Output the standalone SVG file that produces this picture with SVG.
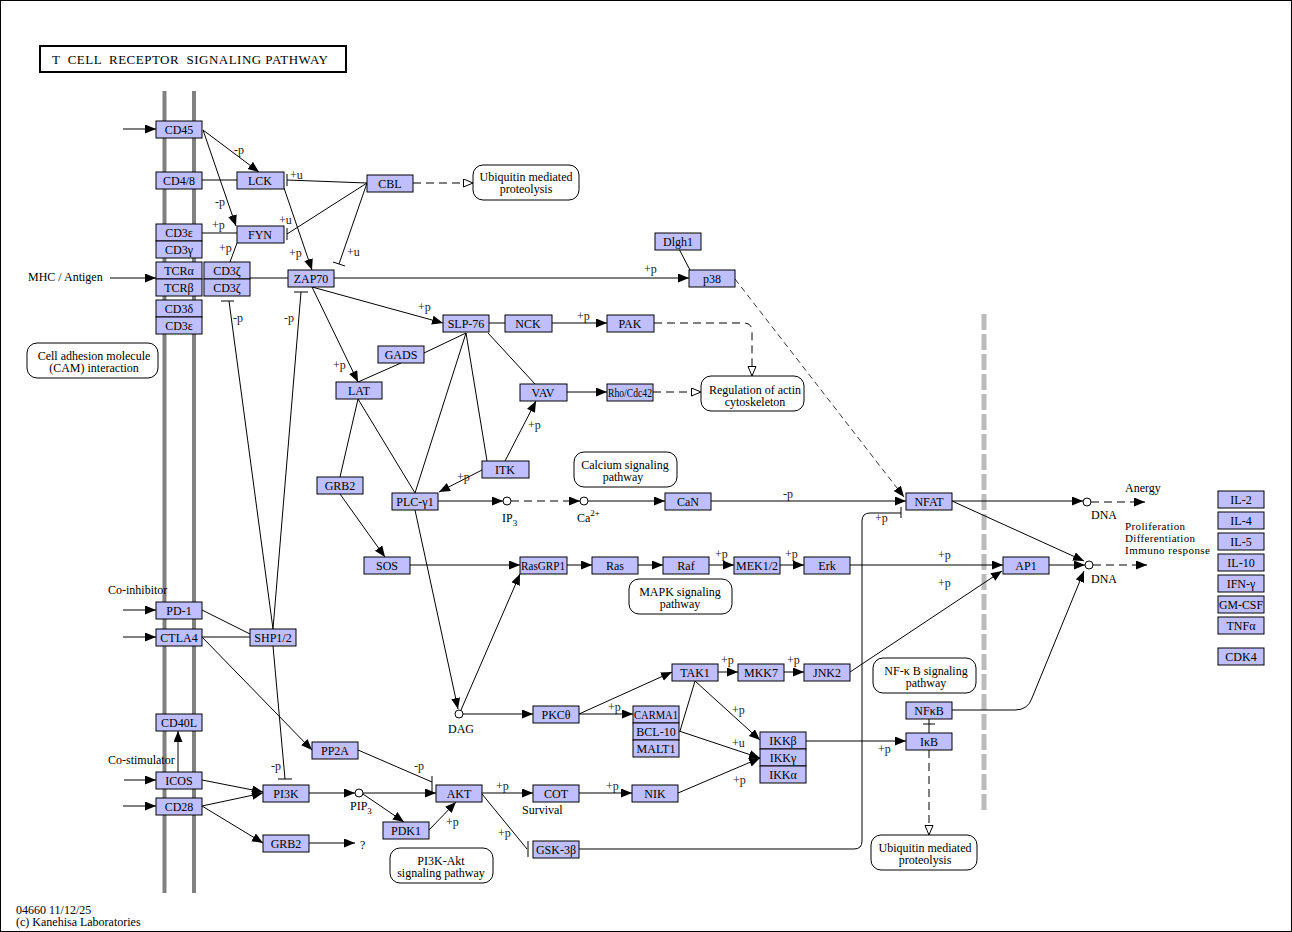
<svg xmlns="http://www.w3.org/2000/svg" width="1292" height="932" viewBox="0 0 1292 932">
<style>
.n rect{fill:#bfbfff;stroke:#000;stroke-width:1}
.n text,.t{font-family:"Liberation Serif",serif;font-size:12px;fill:#000}
.n text{text-anchor:middle}
.c{fill:#fff;stroke:#000;stroke-width:1}
.pw rect{fill:#fff;stroke:#000;stroke-width:1}
.pw text{font-family:"Liberation Serif",serif;font-size:12px;text-anchor:middle}
#edges line,#edges path,#edges polyline{stroke:#000;stroke-width:1;fill:none}
.l{font-family:"Liberation Serif",serif;font-size:12px;fill:#222}
.ar{marker-end:url(#a)}
.d{stroke-dasharray:8,5}
.dt{stroke-dasharray:6,4}
.ao{marker-end:url(#o)}
.s{font-size:11px}
</style>
<defs>
<marker id="a" markerUnits="userSpaceOnUse" markerWidth="12" markerHeight="10" refX="11" refY="4.5" orient="auto"><path d="M0,0 L11,4.5 L0,9 z" fill="#000"/></marker>
<marker id="o" markerUnits="userSpaceOnUse" markerWidth="12" markerHeight="10" refX="10" refY="4.5" orient="auto"><path d="M0.5,0.5 L10,4.5 L0.5,8.5 z" fill="#fff" stroke="#000"/></marker>
</defs>
<rect x="0.5" y="0.5" width="1291" height="931" fill="#fff" stroke="#000"/>
<g id="title"><rect x="40" y="46" width="306" height="26" fill="#fff" stroke="#000" stroke-width="2"/><text x="52" y="64" class="t" style="font-size:13px" xml:space="preserve" textLength="276" lengthAdjust="spacing">T  CELL  RECEPTOR  SIGNALING PATHWAY</text></g>
<g id="membrane"><line x1="164.5" y1="91" x2="164.5" y2="893" stroke="#808080" stroke-width="4"/><line x1="194" y1="91" x2="194" y2="893" stroke="#808080" stroke-width="4"/><line x1="984" y1="314" x2="984" y2="810" stroke="#bbb" stroke-width="5" stroke-dasharray="16,4"/></g>

<g id="edges">
<line class="ar" x1="123" y1="129" x2="156" y2="129"/>
<line class="ar" x1="110" y1="278" x2="156" y2="278"/>
<line class="ar" x1="123" y1="610" x2="156" y2="610"/>
<line class="ar" x1="123" y1="637" x2="156" y2="637"/>
<line class="ar" x1="124" y1="780" x2="156" y2="780"/>
<line class="ar" x1="123" y1="806" x2="156" y2="806"/>
<line class="ar" x1="203" y1="130" x2="259" y2="172"/>
<line class="ar" x1="203" y1="130" x2="236" y2="226"/>
<line x1="202" y1="180" x2="237" y2="180"/>
<line x1="367" y1="183" x2="287" y2="180"/><line x1="287" y1="174" x2="287" y2="186"/>
<line x1="367" y1="183" x2="287" y2="234"/><line x1="287" y1="228" x2="287" y2="240"/>
<line x1="367" y1="183" x2="339" y2="264"/><line x1="333" y1="262" x2="345" y2="266"/>
<line class="ar" x1="284" y1="188" x2="312" y2="270"/>
<line x1="202" y1="233" x2="237" y2="233"/>
<line x1="237" y1="243" x2="230" y2="262"/>
<line x1="250" y1="278" x2="288" y2="278"/>
<line class="ar" x1="334" y1="278" x2="689" y2="278"/>
<line x1="679" y1="249" x2="690" y2="270"/>
<line class="ar" x1="312" y1="287" x2="443" y2="323"/>
<line class="ar" x1="312" y1="287" x2="358" y2="382"/>
<line x1="301" y1="292" x2="273" y2="629"/><line x1="294" y1="292" x2="308" y2="292"/>
<line x1="229" y1="301" x2="273" y2="629"/><line x1="221" y1="301" x2="234" y2="301"/>
<line x1="273" y1="646" x2="285" y2="779"/><line x1="278" y1="779" x2="292" y2="779"/>
<line x1="202" y1="610" x2="250" y2="634"/>
<line x1="202" y1="637" x2="250" y2="637"/>
<line class="ar" x1="202" y1="637" x2="312" y2="750"/>
<line class="ar" x1="178" y1="772" x2="178" y2="731"/>
<line class="ar" x1="202" y1="780" x2="263" y2="792"/>
<line class="ar" x1="202" y1="806" x2="263" y2="793"/>
<line class="ar" x1="202" y1="806" x2="263" y2="843"/>
<line class="ar" x1="309" y1="843" x2="355" y2="843"/>
<line class="ar" x1="309" y1="793" x2="355" y2="793"/>
<line class="ar" x1="363" y1="793" x2="436" y2="793"/>
<line class="ar" x1="363" y1="794" x2="404" y2="822"/>
<line class="ar" x1="429" y1="830" x2="456" y2="802"/>
<line x1="358" y1="750" x2="432" y2="782"/><line x1="432" y1="776" x2="432" y2="792"/>
<line class="ar" x1="482" y1="793" x2="533" y2="793"/>
<line x1="482" y1="794" x2="527" y2="849"/><line x1="528" y1="841" x2="528" y2="857"/>
<line class="ar" x1="579" y1="793" x2="632" y2="793"/>
<line class="ar" x1="678" y1="793" x2="760" y2="758"/>
<path d="M579,849 L854,849 Q862,849 862,841 L862,521 Q862,513 870,513 L901,513"/><line x1="901" y1="507" x2="901" y2="518"/>
<line class="ar" x1="711" y1="501" x2="906" y2="501"/>
<line class="ar dt" x1="735" y1="279" x2="904" y2="497" style="stroke-width:0.8"/>
<line class="ar" x1="438" y1="501" x2="503" y2="501"/>
<line class="ar d" x1="511" y1="501" x2="580" y2="501"/>
<line class="ar" x1="588" y1="501" x2="665" y2="501"/>
<line class="ar" x1="482" y1="470" x2="439" y2="492"/>
<line class="ar" x1="505" y1="461" x2="536" y2="401"/>
<line x1="466" y1="333" x2="487" y2="461"/>
<line x1="466" y1="333" x2="415" y2="493"/>
<line x1="466" y1="333" x2="424" y2="353"/>
<line x1="488" y1="333" x2="535" y2="384"/>
<line x1="489" y1="323" x2="505" y2="323"/>
<line x1="401" y1="363" x2="358" y2="382"/>
<line x1="358" y1="399" x2="340" y2="477"/>
<line x1="358" y1="399" x2="415" y2="493"/>
<line class="ar" x1="340" y1="494" x2="385" y2="557"/>
<line class="ar" x1="410" y1="565" x2="520" y2="565"/>
<line class="ar" x1="567" y1="565" x2="592" y2="565"/>
<line class="ar" x1="638" y1="565" x2="663" y2="565"/>
<line class="ar" x1="709" y1="565" x2="734" y2="565"/>
<line class="ar" x1="780" y1="565" x2="804" y2="565"/>
<line class="ar" x1="850" y1="565" x2="1003" y2="565"/>
<line class="ar" x1="850" y1="672" x2="1002" y2="571"/>
<line class="ar" x1="552" y1="323" x2="607" y2="323"/>
<path class="ao d" d="M654,323 L744,323 Q752,323 752,331 L752,376"/>
<line class="ar" x1="567" y1="392" x2="607" y2="392"/>
<line class="ao d" x1="653" y1="392" x2="701" y2="392"/>
<line class="ao d" x1="413" y1="183" x2="473" y2="183"/>
<line class="ar" x1="415" y1="510" x2="458" y2="709"/>
<line class="ar" x1="461" y1="710" x2="520" y2="574"/>
<line class="ar" x1="463" y1="714" x2="533" y2="714"/>
<line class="ar" x1="579" y1="714" x2="633" y2="714"/>
<line class="ar" x1="579" y1="714" x2="672" y2="672"/>
<line class="ar" x1="718" y1="672" x2="738" y2="672"/>
<line class="ar" x1="784" y1="672" x2="804" y2="672"/>
<line x1="695" y1="681" x2="680" y2="731"/>
<line class="ar" x1="695" y1="681" x2="760" y2="740"/>
<line class="ar" x1="679" y1="731" x2="760" y2="758"/>
<line class="ar" x1="806" y1="741" x2="906" y2="741"/>
<line x1="929" y1="719" x2="929" y2="733"/><line x1="923" y1="724" x2="935" y2="724"/>
<line class="ao d" x1="929" y1="750" x2="929" y2="835"/>
<path class="ar" d="M952,710 L1015,710 Q1028,710 1032,698 L1084,571"/>
<line class="ar" x1="952" y1="501" x2="1083" y2="501"/>
<line class="ar" x1="952" y1="501" x2="1084" y2="561"/>
<line class="ar" x1="1049" y1="565" x2="1085" y2="565"/>
<line class="ar d" x1="1091" y1="502" x2="1145" y2="502"/>
<line class="ar d" x1="1093" y1="565" x2="1147" y2="565"/>
</g>

<g id="labels">
<text class="l" x="234" y="154">-p</text>
<text class="l" x="215" y="206">-p</text>
<text class="l" x="290" y="179">+u</text>
<text class="l" x="279" y="224">+u</text>
<text class="l" x="347" y="256">+u</text>
<text class="l" x="289" y="257">+p</text>
<text class="l" x="212" y="229">+p</text>
<text class="l" x="219" y="252">+p</text>
<text class="l" x="644" y="273">+p</text>
<text class="l" x="418" y="311">+p</text>
<text class="l" x="333" y="369">+p</text>
<text class="l" x="284" y="322">-p</text>
<text class="l" x="233" y="322">-p</text>
<text class="l" x="271" y="770">-p</text>
<text class="l" x="414" y="770">-p</text>
<text class="l" x="446" y="826">+p</text>
<text class="l" x="496" y="790">+p</text>
<text class="l" x="498" y="837">+p</text>
<text class="l" x="606" y="790">+p</text>
<text class="l" x="733" y="784">+p</text>
<text class="l" x="875" y="522">+p</text>
<text class="l" x="783" y="498">-p</text>
<text class="l" x="457" y="481">+p</text>
<text class="l" x="528" y="429">+p</text>
<text class="l" x="577" y="320">+p</text>
<text class="l" x="715" y="558">+p</text>
<text class="l" x="785" y="558">+p</text>
<text class="l" x="938" y="559">+p</text>
<text class="l" x="938" y="587">+p</text>
<text class="l" x="608" y="711">+p</text>
<text class="l" x="721" y="664">+p</text>
<text class="l" x="787" y="664">+p</text>
<text class="l" x="732" y="714">+p</text>
<text class="l" x="732" y="747">+u</text>
<text class="l" x="878" y="753">+p</text>
<text class="t" x="28" y="281">MHC / Antigen</text>
<text class="t" x="108" y="594">Co-inhibitor</text>
<text class="t" x="108" y="764">Co-stimulator</text>
<text class="t" x="360" y="849">?</text>
<text class="t" x="502" y="522">IP<tspan dy="4" font-size="9">3</tspan></text>
<text class="t" x="577" y="522">Ca<tspan dy="-6" font-size="9">2+</tspan></text>
<text class="t" x="350" y="810">PIP<tspan dy="4" font-size="9">3</tspan></text>
<text class="t" x="448" y="733">DAG</text>
<text class="t" x="522" y="814">Survival</text>
<text class="t" x="1091" y="519">DNA</text>
<text class="t" x="1091" y="583">DNA</text>
<text class="t" x="1125" y="492">Anergy</text>
<text class="t s" x="1125" y="530" textLength="60">Proliferation</text>
<text class="t s" x="1125" y="542" textLength="70">Differentiation</text>
<text class="t s" x="1125" y="554" textLength="85">Immuno response</text>
<text class="t" x="16" y="914">04660 11/12/25</text>
<text class="t" x="16" y="926">(c) Kanehisa Laboratories</text>
</g>

<g id="compounds">
<circle class="c" cx="507" cy="501" r="4"/>
<circle class="c" cx="584" cy="501" r="4"/>
<circle class="c" cx="359" cy="793" r="4"/>
<circle class="c" cx="459" cy="714" r="4"/>
<circle class="c" cx="1087" cy="502" r="4"/>
<circle class="c" cx="1089" cy="565" r="4"/>
</g>

<g id="pw-ub1" class="pw"><rect x="473" y="165" width="106" height="35" rx="10"/><text x="526" y="181">Ubiquitin mediated</text><text x="526" y="193">proteolysis</text></g>
<g id="pw-cam" class="pw"><rect x="27" y="343" width="131" height="35" rx="10"/><text x="94" y="360">Cell adhesion molecule</text><text x="94" y="372">(CAM) interaction</text></g>
<g id="pw-actin" class="pw"><rect x="701" y="376" width="103" height="35" rx="10"/><text x="755" y="394">Regulation of actin</text><text x="755" y="406">cytoskeleton</text></g>
<g id="pw-ca" class="pw"><rect x="574" y="452" width="103" height="35" rx="10"/><text x="625" y="469">Calcium signaling</text><text x="623" y="481">pathway</text></g>
<g id="pw-mapk" class="pw"><rect x="629" y="579" width="103" height="35" rx="10"/><text x="680" y="596">MAPK signaling</text><text x="680" y="608">pathway</text></g>
<g id="pw-nfkb" class="pw"><rect x="873" y="658" width="103" height="35" rx="10"/><text x="926" y="675">NF-κ B signaling</text><text x="926" y="687">pathway</text></g>
<g id="pw-pi3k" class="pw"><rect x="390" y="848" width="103" height="35" rx="10"/><text x="441" y="865">PI3K-Akt</text><text x="441" y="877">signaling pathway</text></g>
<g id="pw-ub2" class="pw"><rect x="871" y="835" width="106" height="35" rx="10"/><text x="925" y="852">Ubiquitin mediated</text><text x="925" y="864">proteolysis</text></g>

<g id="CD45" class="n"><rect x="156" y="121" width="46" height="17"/><text x="179" y="134">CD45</text></g>
<g id="CD48" class="n"><rect x="156" y="172" width="46" height="17"/><text x="179" y="185">CD4/8</text></g>
<g id="LCK" class="n"><rect x="237" y="172" width="47" height="17"/><text x="260" y="185">LCK</text></g>
<g id="CBL" class="n"><rect x="367" y="175" width="46" height="17"/><text x="390" y="188">CBL</text></g>
<g id="FYN" class="n"><rect x="237" y="226" width="47" height="17"/><text x="260" y="239">FYN</text></g>
<g id="CD3e" class="n"><rect x="156" y="224" width="46" height="17"/><text x="179" y="237">CD3ε</text></g>
<g id="CD3g" class="n"><rect x="156" y="241" width="46" height="17"/><text x="179" y="254">CD3γ</text></g>
<g id="TCRa" class="n"><rect x="156" y="262" width="46" height="17"/><text x="179" y="275">TCRα</text></g>
<g id="TCRb" class="n"><rect x="156" y="279" width="46" height="17"/><text x="179" y="292">TCRβ</text></g>
<g id="CD3z1" class="n"><rect x="204" y="262" width="46" height="17"/><text x="227" y="275">CD3ζ</text></g>
<g id="CD3z2" class="n"><rect x="204" y="279" width="46" height="17"/><text x="227" y="292">CD3ζ</text></g>
<g id="CD3d" class="n"><rect x="156" y="300" width="46" height="17"/><text x="179" y="313">CD3δ</text></g>
<g id="CD3e2" class="n"><rect x="156" y="317" width="46" height="17"/><text x="179" y="330">CD3ε</text></g>
<g id="ZAP70" class="n"><rect x="288" y="270" width="46" height="17"/><text x="311" y="283">ZAP70</text></g>
<g id="Dlgh1" class="n"><rect x="655" y="233" width="46" height="17"/><text x="678" y="246">Dlgh1</text></g>
<g id="p38" class="n"><rect x="689" y="270" width="46" height="17"/><text x="712" y="283">p38</text></g>
<g id="SLP76" class="n"><rect x="443" y="315" width="46" height="17"/><text x="466" y="328">SLP-76</text></g>
<g id="NCK" class="n"><rect x="505" y="315" width="47" height="17"/><text x="528" y="328">NCK</text></g>
<g id="PAK" class="n"><rect x="607" y="315" width="47" height="17"/><text x="630" y="328">PAK</text></g>
<g id="GADS" class="n"><rect x="378" y="346" width="46" height="17"/><text x="401" y="359">GADS</text></g>
<g id="LAT" class="n"><rect x="336" y="382" width="46" height="17"/><text x="359" y="395">LAT</text></g>
<g id="VAV" class="n"><rect x="520" y="384" width="47" height="17"/><text x="543" y="397">VAV</text></g>
<g id="Rho" class="n"><rect x="607" y="384" width="46" height="17"/><text x="630" y="397" textLength="44" lengthAdjust="spacingAndGlyphs">Rho/Cdc42</text></g>
<g id="ITK" class="n"><rect x="482" y="461" width="47" height="17"/><text x="505" y="474">ITK</text></g>
<g id="GRB2a" class="n"><rect x="317" y="477" width="46" height="17"/><text x="340" y="490">GRB2</text></g>
<g id="PLCg1" class="n"><rect x="392" y="493" width="46" height="17"/><text x="415" y="506">PLC-γ1</text></g>
<g id="CaN" class="n"><rect x="665" y="493" width="46" height="17"/><text x="688" y="506">CaN</text></g>
<g id="NFAT" class="n"><rect x="906" y="493" width="46" height="17"/><text x="929" y="506">NFAT</text></g>
<g id="SOS" class="n"><rect x="364" y="557" width="46" height="17"/><text x="387" y="570">SOS</text></g>
<g id="RasGRP1" class="n"><rect x="520" y="557" width="47" height="17"/><text x="543" y="570" textLength="44" lengthAdjust="spacingAndGlyphs">RasGRP1</text></g>
<g id="Ras" class="n"><rect x="592" y="557" width="46" height="17"/><text x="615" y="570">Ras</text></g>
<g id="Raf" class="n"><rect x="663" y="557" width="46" height="17"/><text x="686" y="570">Raf</text></g>
<g id="MEK12" class="n"><rect x="734" y="557" width="46" height="17"/><text x="757" y="570">MEK1/2</text></g>
<g id="Erk" class="n"><rect x="804" y="557" width="46" height="17"/><text x="827" y="570">Erk</text></g>
<g id="AP1" class="n"><rect x="1003" y="557" width="46" height="17"/><text x="1026" y="570">AP1</text></g>
<g id="PD1" class="n"><rect x="156" y="602" width="46" height="17"/><text x="179" y="615">PD-1</text></g>
<g id="CTLA4" class="n"><rect x="156" y="629" width="46" height="17"/><text x="179" y="642">CTLA4</text></g>
<g id="SHP12" class="n"><rect x="250" y="629" width="46" height="17"/><text x="273" y="642">SHP1/2</text></g>
<g id="TAK1" class="n"><rect x="672" y="664" width="46" height="17"/><text x="695" y="677">TAK1</text></g>
<g id="MKK7" class="n"><rect x="738" y="664" width="46" height="17"/><text x="761" y="677">MKK7</text></g>
<g id="JNK2" class="n"><rect x="804" y="664" width="46" height="17"/><text x="827" y="677">JNK2</text></g>
<g id="NFkB" class="n"><rect x="906" y="702" width="46" height="17"/><text x="929" y="715">NFκB</text></g>
<g id="IkB" class="n"><rect x="906" y="733" width="46" height="17"/><text x="929" y="746">IκB</text></g>
<g id="PKCt" class="n"><rect x="533" y="706" width="46" height="17"/><text x="556" y="719">PKCθ</text></g>
<g id="CARMA1" class="n"><rect x="633" y="706" width="46" height="17"/><text x="656" y="719" textLength="44" lengthAdjust="spacingAndGlyphs">CARMA1</text></g>
<g id="BCL10" class="n"><rect x="633" y="723" width="46" height="17"/><text x="656" y="736">BCL-10</text></g>
<g id="MALT1" class="n"><rect x="633" y="740" width="46" height="17"/><text x="656" y="753">MALT1</text></g>
<g id="IKKb" class="n"><rect x="760" y="732" width="46" height="17"/><text x="783" y="745">IKKβ</text></g>
<g id="IKKg" class="n"><rect x="760" y="749" width="46" height="17"/><text x="783" y="762">IKKγ</text></g>
<g id="IKKa" class="n"><rect x="760" y="766" width="46" height="17"/><text x="783" y="779">IKKα</text></g>
<g id="CD40L" class="n"><rect x="156" y="714" width="46" height="17"/><text x="179" y="727">CD40L</text></g>
<g id="PP2A" class="n"><rect x="312" y="742" width="46" height="17"/><text x="335" y="755">PP2A</text></g>
<g id="ICOS" class="n"><rect x="156" y="772" width="46" height="17"/><text x="179" y="785">ICOS</text></g>
<g id="CD28" class="n"><rect x="156" y="798" width="46" height="17"/><text x="179" y="811">CD28</text></g>
<g id="PI3K" class="n"><rect x="263" y="785" width="46" height="17"/><text x="286" y="798">PI3K</text></g>
<g id="GRB2b" class="n"><rect x="263" y="835" width="46" height="17"/><text x="286" y="848">GRB2</text></g>
<g id="AKT" class="n"><rect x="436" y="785" width="46" height="17"/><text x="459" y="798">AKT</text></g>
<g id="PDK1" class="n"><rect x="383" y="822" width="46" height="17"/><text x="406" y="835">PDK1</text></g>
<g id="COT" class="n"><rect x="533" y="785" width="46" height="17"/><text x="556" y="798">COT</text></g>
<g id="NIK" class="n"><rect x="632" y="785" width="46" height="17"/><text x="655" y="798">NIK</text></g>
<g id="GSK3b" class="n"><rect x="533" y="841" width="46" height="17"/><text x="556" y="854">GSK-3β</text></g>
<g id="IL2" class="n"><rect x="1218" y="491" width="46" height="17"/><text x="1241" y="504">IL-2</text></g>
<g id="IL4" class="n"><rect x="1218" y="512" width="46" height="17"/><text x="1241" y="525">IL-4</text></g>
<g id="IL5" class="n"><rect x="1218" y="533" width="46" height="17"/><text x="1241" y="546">IL-5</text></g>
<g id="IL10" class="n"><rect x="1218" y="554" width="46" height="17"/><text x="1241" y="567">IL-10</text></g>
<g id="IFNg" class="n"><rect x="1218" y="575" width="46" height="17"/><text x="1241" y="588">IFN-γ</text></g>
<g id="GMCSF" class="n"><rect x="1218" y="596" width="46" height="17"/><text x="1241" y="609" textLength="44" lengthAdjust="spacingAndGlyphs">GM-CSF</text></g>
<g id="TNFa" class="n"><rect x="1218" y="617" width="46" height="17"/><text x="1241" y="630">TNFα</text></g>
<g id="CDK4" class="n"><rect x="1218" y="648" width="46" height="17"/><text x="1241" y="661">CDK4</text></g>
</svg>
